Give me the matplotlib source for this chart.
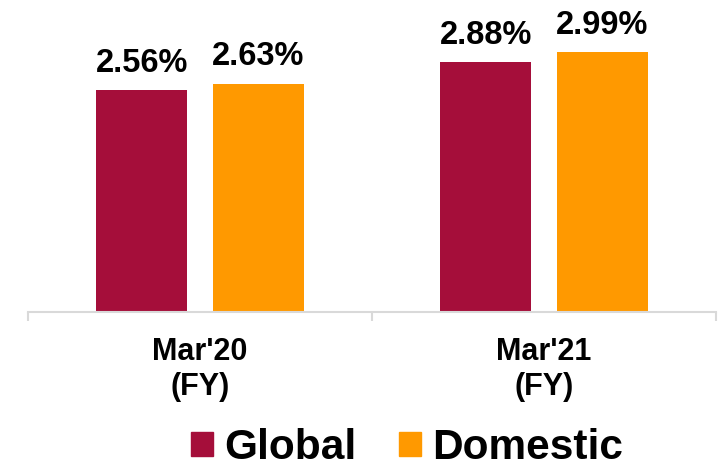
import numpy as np
import matplotlib.pyplot as plt
from matplotlib.patches import Patch

plt.rcParams['font.family'] = ['Liberation Sans', 'DejaVu Sans']

categories = ["Mar'20\n(FY)", "Mar'21\n(FY)"]
series_names = ['Global', 'Domestic']
global_vals = [2.56, 2.88]
domestic_vals = [2.63, 2.99]
colors = ['#A50E3A', '#FF9900']

fig = plt.figure(figsize=(7.18, 4.76), dpi=100)
ax = fig.add_axes([28 / 718, 164 / 476, 688 / 718, 304 / 476])

x = np.arange(len(categories))
w = 0.265
off = 0.169
for vals, sign, col in [(global_vals, -1, colors[0]), (domestic_vals, 1, colors[1])]:
    bars = ax.bar(x + sign * off, vals, width=w, color=col)
    for b, v in zip(bars, vals):
        ax.annotate(f'{v:.2f}%', (b.get_x() + b.get_width() / 2, v),
                    xytext=(0, 8), textcoords='offset points',
                    ha='center', va='bottom', fontsize=23.5, fontweight='bold')

ax.set_xlim(-0.5, len(categories) - 0.5)
ax.set_ylim(0, 3.5)
ax.set_yticks([])
for s in ['left', 'right', 'top']:
    ax.spines[s].set_visible(False)
ax.spines['bottom'].set_color('#D9D9D9')
ax.spines['bottom'].set_linewidth(1.5)

ax.set_xticks(x)
ax.set_xticklabels(categories, fontsize=22, fontweight='bold', linespacing=1.2)
ax.tick_params(axis='x', which='major', length=0, pad=18)
ax.set_xticks(np.arange(len(categories) + 1) - 0.5, minor=True)
ax.tick_params(axis='x', which='minor', length=6.5, width=1.5, color='#D9D9D9')

handles = [Patch(color=c) for c in colors]
fig.legend(handles, series_names, loc='center', bbox_to_anchor=(407 / 718, 1 - 448 / 476),
           ncol=2, frameon=False, prop={'weight': 'bold', 'size': 30.5},
           handlelength=0.52, handleheight=0.52, handletextpad=0.26, columnspacing=1.0)

fig.savefig('out.png', dpi=100)
